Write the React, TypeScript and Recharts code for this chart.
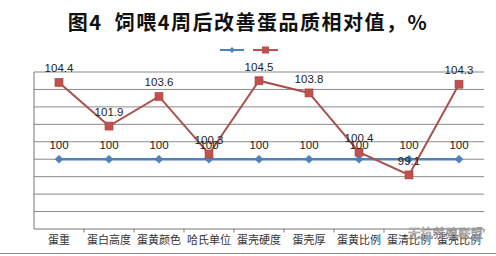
import { LineChart, Line, XAxis, YAxis, ReferenceLine, LabelList } from "recharts";

// categories and series values
const categories = ["蛋重", "蛋白高度", "蛋黄颜色", "哈氏单位", "蛋壳硬度", "蛋壳厚", "蛋黄比例", "蛋清比例", "蛋壳比例"];
const control = [100, 100, 100, 100, 100, 100, 100, 100, 100];
const treated = [104.4, 101.9, 103.6, 100.3, 104.5, 103.8, 100.4, 99.1, 104.3];
const yTicks = [96, 97, 98, 99, 100, 101, 102, 103, 104, 105];
const centerTicks = [1, 2, 3, 4, 5, 6, 7, 8, 9];
const edgeTicks = [1.5, 2.5, 3.5, 4.5, 5.5, 6.5, 7.5, 8.5, 9.5];

const BLUE = "#4f81bd";
const RED = "#c0504d";

const data = categories.map((name, i) => ({
  idx: i + 1,
  name,
  control: control[i],
  treated: treated[i],
}));

const labelStyle = { fontFamily: "'Liberation Sans', Arial, sans-serif", fontSize: 11.5, fill: "#222" };

const Diamond = (p: any) => (
  <path
    key={`d-${p.index}`}
    d={`M${p.cx},${p.cy - 4} L${p.cx + 4},${p.cy} L${p.cx},${p.cy + 4} L${p.cx - 4},${p.cy} Z`}
    fill={BLUE}
    stroke="#3f6fa8"
    strokeWidth={0.5}
  />
);

const Square = (p: any) => (
  <rect
    key={`s-${p.index}`}
    x={p.cx - 4}
    y={p.cy - 4}
    width={8}
    height={8}
    fill={RED}
    stroke="#a8413e"
    strokeWidth={0.6}
  />
);

export default function App() {
  return (
    <div style={{ position: "absolute", left: 0, top: 0, width: 496, height: 256, background: "#fff", overflow: "hidden" }}>
      <div
        style={{
          position: "absolute",
          top: 8,
          width: 496,
          textAlign: "center",
          fontFamily: "'Noto Sans CJK SC', sans-serif",
          fontWeight: 700,
          fontSize: 20,
          letterSpacing: 1.5,
          lineHeight: "28px",
          color: "#111",
          whiteSpace: "pre",
        }}
      >
        图4  饲喂4周后改善蛋品质相对值，%
      </div>
      {/* legend without series names, like the original */}
      <svg style={{ position: "absolute", left: 216, top: 44 }} width={66} height={12}>
        <line x1={4} y1={6} x2={28} y2={6} stroke={BLUE} strokeWidth={2} />
        <path d="M16,3 L19,6 L16,9 L13,6 Z" fill={BLUE} />
        <line x1={37} y1={6} x2={62} y2={6} stroke={RED} strokeWidth={2} />
        <rect x={46} y={2.5} width={7} height={7} fill={RED} />
      </svg>
      <LineChart width={496} height={256} data={data} margin={{ top: 72, right: 12, bottom: 1, left: 30 }}>
        <XAxis
          xAxisId="main"
          type="number"
          dataKey="idx"
          domain={[0.5, 9.5]}
          ticks={centerTicks}
          tickFormatter={(v: number) => categories[v - 1]}
          interval={0}
          height={26}
          tickSize={0}
          tickMargin={7}
          axisLine={{ stroke: "#777" }}
          tick={{ fontFamily: "'Noto Sans CJK SC', sans-serif", fontSize: 11, fill: "#333" }}
        />
        <YAxis
          domain={[96, 105]}
          ticks={yTicks}
          width={4}
          tick={false}
          tickSize={4}
          axisLine={{ stroke: "#777" }}
          tickLine={{ stroke: "#777" }}
        />
        {/* horizontal gridlines, one per y tick */}
        {yTicks.slice(1).map((t) => (
          <ReferenceLine key={`g${t}`} xAxisId="main" y={t} stroke="#8a8a8a" strokeWidth={1} />
        ))}
        {/* category boundary tick marks below the x axis */}
        {edgeTicks.map((e) => (
          <ReferenceLine
            key={`e${e}`}
            xAxisId="main"
            ifOverflow="visible"
            segment={[{ x: e, y: 96 }, { x: e, y: 95.8 }]}
            stroke="#777"
            strokeWidth={1}
          />
        ))}
        <Line
          xAxisId="main"
          type="linear"
          dataKey="control"
          stroke={BLUE}
          strokeWidth={2.5}
          dot={Diamond}
          activeDot={false}
          isAnimationActive={false}
        >
          <LabelList dataKey="control" position="top" offset={10} style={labelStyle} />
        </Line>
        <Line
          xAxisId="main"
          type="linear"
          dataKey="treated"
          stroke="#a9504e"
          strokeWidth={2}
          dot={Square}
          activeDot={false}
          isAnimationActive={false}
        >
          <LabelList dataKey="treated" position="top" offset={10} style={labelStyle} />
        </Line>
      </LineChart>
      {/* faint watermark over the bottom-right labels */}
      <div
        style={{
          position: "absolute",
          left: 408,
          top: 225,
          fontFamily: "'Noto Sans CJK SC', sans-serif",
          fontSize: 12.5,
          lineHeight: "16px",
          color: "rgba(255,255,255,0.85)",
          WebkitTextStroke: "0.5px #777",
          whiteSpace: "pre",
        }}
      >
        无抗养殖联盟
      </div>
      <div style={{ position: "absolute", left: 0, top: 253, width: 496, height: 1, background: "#8a8a8a" }} />
    </div>
  );
}
